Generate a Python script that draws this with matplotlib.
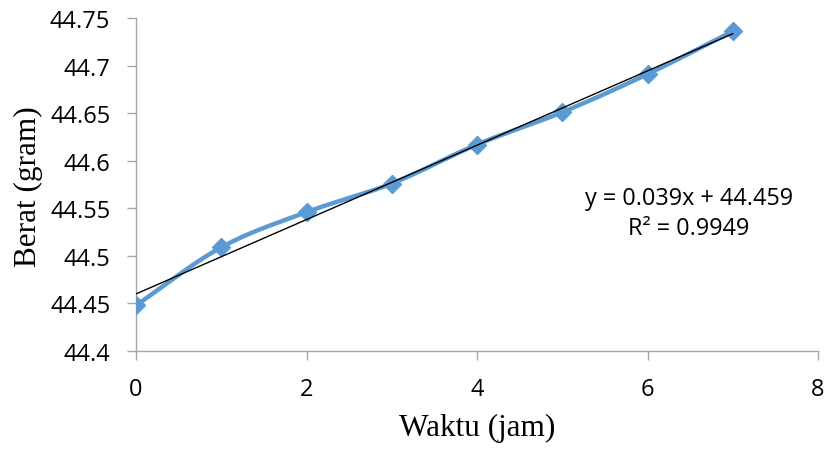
import numpy as np
import matplotlib
matplotlib.use("Agg")
import matplotlib.pyplot as plt

# Data
waktu = [0, 1, 2, 3, 4, 5, 6, 7]
berat = [44.448, 44.509, 44.546, 44.576, 44.617, 44.651, 44.691, 44.736]
x_ticks = [0, 2, 4, 6, 8]
y_ticks = [44.4, 44.45, 44.5, 44.55, 44.6, 44.65, 44.7, 44.75]
y_tick_labels = ["44.4", "44.45", "44.5", "44.55", "44.6", "44.65", "44.7", "44.75"]
eq_text = "y = 0.039x + 44.459\nR² = 0.9949"

def smooth(xs, ys, n=30):
    # Catmull-Rom style smoothing like Excel's smoothed line
    xs = np.asarray(xs, float); ys = np.asarray(ys, float)
    px = np.concatenate([[2*xs[0]-xs[1]], xs, [2*xs[-1]-xs[-2]]])
    py = np.concatenate([[2*ys[0]-ys[1]], ys, [2*ys[-1]-ys[-2]]])
    ox, oy = [], []
    for i in range(1, len(px)-2):
        p0, p1, p2, p3 = (np.array([px[j], py[j]]) for j in (i-1, i, i+1, i+2))
        c1 = p1 + (p2 - p0) / 6
        c2 = p2 - (p3 - p1) / 6
        t = np.linspace(0, 1, n)[:, None]
        b = (1-t)**3*p1 + 3*(1-t)**2*t*c1 + 3*(1-t)*t**2*c2 + t**3*p2
        ox.extend(b[:, 0]); oy.extend(b[:, 1])
    return ox, oy

fig = plt.figure(figsize=(8.25, 4.52), dpi=100)
ax = fig.add_axes([136/825, 1-352/452, 682/825, 333/452])

sx, sy = smooth(waktu, berat)
ax.plot(sx, sy, color="#5B9BD5", lw=3.2, solid_capstyle="round", zorder=2)
ax.plot(waktu, berat, linestyle="none", marker="D", ms=9.5, color="#5B9BD5", zorder=3)

coef = np.polyfit(waktu, berat, 1)
tx = np.array([waktu[0], waktu[-1]])
ax.plot(tx, np.polyval(coef, tx), color="black", lw=1, zorder=4)

ax.set_xlim(0, 8)
ax.set_ylim(44.4, 44.75)
ax.set_xticks(x_ticks)
ax.set_yticks(y_ticks)
ax.set_yticklabels(y_tick_labels)
for s in ["top", "right"]:
    ax.spines[s].set_visible(False)
for s in ["left", "bottom"]:
    ax.spines[s].set_color("#a6a6a6")
    ax.spines[s].set_linewidth(1)
ax.tick_params(axis="both", colors="#a6a6a6", length=6.5, width=1, labelcolor="black",
               labelsize=17, pad=12)
for lab in ax.get_xticklabels() + ax.get_yticklabels():
    lab.set_fontfamily("Open Sans")

ax.set_xlabel("Waktu (jam)", family="Liberation Serif", fontsize=22.5)
ax.set_ylabel("Berat (gram)", family="Liberation Serif", fontsize=22.5)
ax.xaxis.label.set_va("center")
ax.yaxis.label.set_va("center")
ax.xaxis.set_label_coords((477.5-136)/682, (352-428)/333)
ax.yaxis.set_label_coords((28-136)/682, (352-186.5)/333)

fig.text(689/825, 1-214/452, eq_text, ha="center", va="center", family="Open Sans",
         fontsize=16.8, linespacing=1.3)

fig.savefig("out.png", dpi=100)
